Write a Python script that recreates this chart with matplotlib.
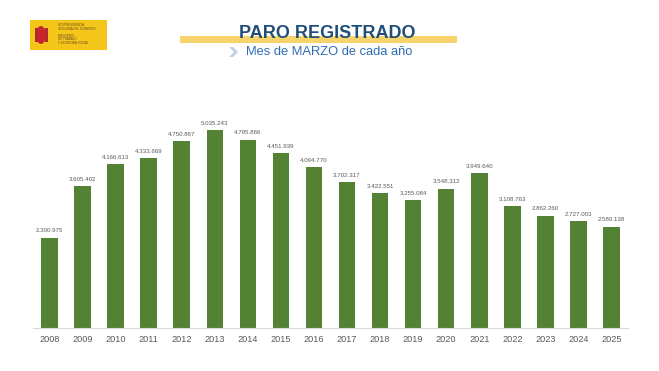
"""Paro registrado, mes de marzo de cada año (2008-2025)."""

import matplotlib

matplotlib.use("Agg")
import matplotlib.pyplot as plt
from matplotlib.patches import Ellipse, Polygon, Rectangle

years = ["2008", "2009", "2010", "2011", "2012", "2013", "2014", "2015", "2016",
         "2017", "2018", "2019", "2020", "2021", "2022", "2023", "2024", "2025"]
parados = [2300975, 3605402, 4166613, 4333669, 4750867, 5035243, 4795866, 4451939,
           4094770, 3702317, 3422551, 3255084, 3548312, 3949640, 3108763, 2862260,
           2727003, 2580138]

title = "PARO REGISTRADO"
subtitle = "Mes de MARZO de cada año"
logo_lines = ["VICEPRESIDENCIA", "SEGUNDA DEL GOBIERNO", "", "MINISTERIO", "DE TRABAJO",
              "Y ECONOMÍA SOCIAL"]

W, H = 659, 371
BAR_GREEN = "#548235"
LABEL_GREY = "#595959"
NAVY = "#1F4E79"
BLUE = "#2E6DB4"

plt.rcParams["font.family"] = ["Liberation Sans", "DejaVu Sans"]


def fx(px):
    return px / W


def fy(py):
    return 1 - py / H


def es_num(v):
    return f"{v:,}".replace(",", ".")


fig = plt.figure(figsize=(W / 100, H / 100), dpi=100)
fig.patch.set_facecolor("white")

# header: logo
fig.patches.append(Rectangle((fx(30), fy(50)), fx(77), 30 / H, transform=fig.transFigure,
                             facecolor="#F4C61A", edgecolor="none"))
fig.patches.append(Ellipse((fx(41), fy(35)), 10 / W, 18 / H, transform=fig.transFigure,
                           facecolor="#C8262E", edgecolor="none"))
fig.patches.append(Rectangle((fx(35), fy(42)), 3 / W, 14 / H, transform=fig.transFigure,
                             facecolor="#B02A30", edgecolor="none"))
fig.patches.append(Rectangle((fx(45), fy(42)), 3 / W, 14 / H, transform=fig.transFigure,
                             facecolor="#B02A30", edgecolor="none"))
for i, line in enumerate(logo_lines):
    if line:
        fig.text(fx(58), fy(25 + i * 3.6), line, fontsize=2.2, color="#6B4A1E",
                 va="center", ha="left")

# header: title bar, title, subtitle
fig.patches.append(Rectangle((fx(180), fy(43)), fx(277), 7 / H, transform=fig.transFigure,
                             facecolor="#F6D46B", edgecolor="none"))
fig.text(fx(327), fy(33), title, fontsize=13, fontweight="bold", color=NAVY,
         ha="center", va="center")
fig.patches.append(Polygon([(fx(229), fy(47)), (fx(233), fy(47)), (fx(238), fy(52)),
                            (fx(233), fy(57)), (fx(229), fy(57)), (fx(234), fy(52))],
                           closed=True, transform=fig.transFigure,
                           facecolor="#BFD0E6", edgecolor="none"))
fig.text(fx(329), fy(52), subtitle, fontsize=9.3, color=BLUE, ha="center", va="center")

# chart
px_per_m = 39.3
ax = fig.add_axes([fx(33), fy(328), fx(628) - fx(33), (328 - 100) / H])
x = list(range(len(years)))
ax.bar(x, parados, width=0.5, color=BAR_GREEN, edgecolor="none", zorder=2)
ax.set_xlim(-0.5, len(years) - 0.5)
ax.set_ylim(0, 228 / px_per_m * 1e6)

for xi, v in zip(x, parados):
    ax.annotate(es_num(v), (xi, v), xytext=(0, 3), textcoords="offset points",
                ha="center", va="bottom", fontsize=4.4, color=LABEL_GREY)

ax.set_xticks(x)
ax.set_xticklabels(years, fontsize=6.6, color=LABEL_GREY)
ax.tick_params(axis="x", length=0, pad=5)
ax.set_yticks([])
for side in ("top", "left", "right"):
    ax.spines[side].set_visible(False)
ax.spines["bottom"].set_color("#D9D9D9")
ax.spines["bottom"].set_linewidth(0.8)
ax.set_facecolor("none")

fig.savefig("out.png", dpi=100, facecolor="white")
plt.close(fig)
